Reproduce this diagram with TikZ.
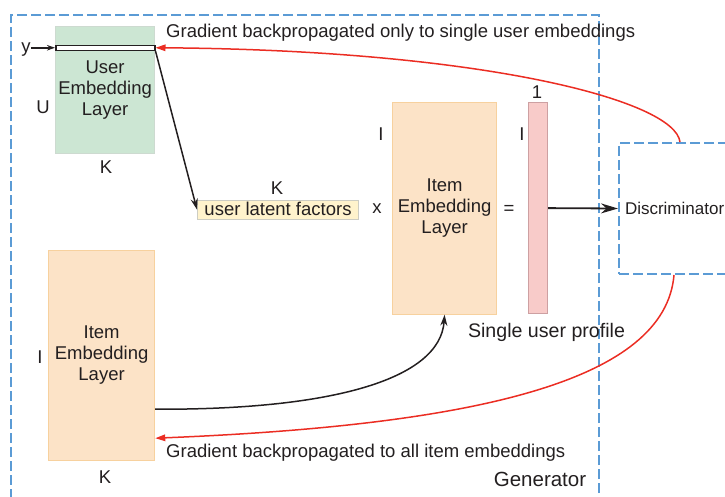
\documentclass[tikz,border=0pt]{standalone}
\usepackage{fontspec}
\setmainfont{Liberation Sans}
\usetikzlibrary{arrows.meta}

\definecolor{ink}{RGB}{35,31,32}
\definecolor{genblue}{RGB}{91,155,213}
\definecolor{gradred}{RGB}{235,45,35}
\definecolor{userfill}{RGB}{204,230,211}
\definecolor{userdraw}{RGB}{205,218,208}
\definecolor{itemfill}{RGB}{252,227,199}
\definecolor{itemdraw}{RGB}{247,209,158}
\definecolor{vecfill}{RGB}{248,203,201}
\definecolor{vecdraw}{RGB}{205,160,162}
\definecolor{latfill}{RGB}{255,243,204}
\definecolor{latdraw}{RGB}{205,205,195}

\newcommand\dgmfont{\fontsize{18.5}{20.6}\selectfont}
\newcommand\discfont{\fontsize{17}{20}\selectfont}

\tikzset{
  dashbox/.style={draw=genblue, line width=2pt, dash pattern=on 10pt off 4pt},
  layerbox/.style={anchor=north west, inner sep=0pt, align=center, line width=1.2pt},
  txt/.style={anchor=base},
  flow/.style={draw=ink, line width=1.5pt, -{Stealth[length=11pt,width=7pt]}},
  gradflow/.style={draw=gradred, line width=1.5pt, -{Triangle[length=10pt,width=6.5pt]}},
}

\begin{document}
\begin{tikzpicture}[x=1pt, y=-1pt, every node/.style={text=ink, font=\dgmfont, inner sep=0pt}]
\clip (0,0) rectangle (725,496);

% generator frame
\node[dashbox, anchor=north west, minimum width=588pt, minimum height=506pt] (gen) at (10,14) {};
\node[txt, font=\fontsize{20.5}{24}\selectfont] (genlab) at (540,486) {Generator};

% user embedding layer with the selected row
\node[layerbox, fill=userfill, draw=userdraw, minimum width=99pt, minimum height=127pt] (ub) at (55,26)
  {User\\Embedding\\Layer};
\node[anchor=north west, draw=ink, fill=white, line width=1.5pt, minimum width=99pt, minimum height=5pt] (row) at (55,44.5) {};
\node[txt] (ylab) at (26,52.5) {y};
\node[txt] (ulab) at (43,113) {U};
\node[txt] (ukl) at (106,173) {K};
\draw[draw=ink, line width=1.5pt, -{Stealth[length=8pt,width=5.5pt]}] (ylab.east |- row.west) -- (row.west);

% user latent factors times item embeddings
\node[anchor=north west, fill=latfill, draw=latdraw, line width=1.2pt, minimum width=161pt, minimum height=19pt] (ulf) at (197,199.5) {};
\node[txt] at (278,215) {user latent factors};
\node[txt] (lk) at (277,194) {K};
\node[txt] (times) at (377,213) {x};

\node[layerbox, fill=itemfill, draw=itemdraw, minimum width=104pt, minimum height=212pt] (rib) at (392,101.5)
  {Item\\Embedding\\Layer};
\node[txt] (ril) at (381,140) {I};
\node[txt] (eq) at (509,214) {=};

% single user profile vector
\node[anchor=north west, fill=vecfill, draw=vecdraw, line width=1.2pt, minimum width=19pt, minimum height=211pt] (vec) at (528,102) {};
\node[txt] (one) at (537,98) {1};
\node[txt] (vil) at (522,140) {I};
\node[txt, font=\fontsize{19.6}{23}\selectfont] (prof) at (546.5,337) {Single user profile};

% discriminator
\node[dashbox, anchor=north west, minimum width=122pt, minimum height=131pt, text width=110pt,
      inner xsep=6pt, align=left, font=\discfont] (disc) at (618,142) {Discriminator};

% item embedding layer of the generator
\node[layerbox, fill=itemfill, draw=itemdraw, minimum width=106pt, minimum height=210pt] (lib) at (48,249.5)
  {Item\\Embedding\\Layer};
\node[txt] (lil) at (40,363) {I};
\node[txt] (lkl) at (105,483) {K};

% forward connections
\draw[flow] (row.south east) -- (ulf.west);
\draw[draw=ink, line width=1.8pt, -{Stealth[length=17pt,width=10pt]}] (vec.east) -- (disc.west);
\draw[flow] ([yshift=51.5pt]lib.south east) .. controls (330,410) and (440,380) .. (rib.south);

% gradients
\draw[gradflow] (disc.north) .. controls (675,100) and (480,50) .. (row.east);
\node[anchor=base west] (gtop) at (166,37.5) {Gradient backpropagated only to single user embeddings};
\draw[gradflow] ([xshift=-6pt]disc.south) .. controls (665,380) and (480,425) .. ([yshift=22.5pt]lib.south east);
\node[anchor=base west] (gbot) at (166,457) {Gradient backpropagated to all item embeddings};
\end{tikzpicture}
\end{document}
